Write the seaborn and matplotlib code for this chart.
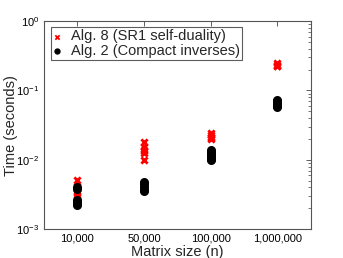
import numpy as np
import pandas as pd
import matplotlib
matplotlib.use("Agg")
import matplotlib.pyplot as plt
import seaborn as sns
from matplotlib.ticker import LogLocator, NullFormatter

sizes = ["10,000", "50,000", "100,000", "1,000,000"]

# timings (seconds)
sr1_times = {
    "10,000": [0.0051, 0.0042, 0.0036, 0.0033, 0.0030, 0.0027, 0.0025, 0.0023],
    "50,000": [0.0178, 0.0155, 0.0140, 0.0132, 0.0125, 0.0098],
    "100,000": [0.0240, 0.0225, 0.0215, 0.0205, 0.0198],
    "1,000,000": [0.245, 0.235, 0.228, 0.222],
}
compact_times = {
    "10,000": [0.0041, 0.0038, 0.0026, 0.0025, 0.0024, 0.0023, 0.0022],
    "50,000": [0.0048, 0.0045, 0.0040, 0.0037, 0.0036],
    "100,000": [0.0140, 0.0130, 0.0122, 0.0115, 0.0108, 0.0103, 0.0100],
    "1,000,000": [0.072, 0.068, 0.064, 0.061, 0.058],
}


def to_frame(times, label):
    rows = [(s, t, label) for s in sizes for t in times[s]]
    return pd.DataFrame(rows, columns=["size", "time", "alg"])


sr1 = to_frame(sr1_times, "Alg. 8 (SR1 self-duality)")
compact = to_frame(compact_times, "Alg. 2 (Compact inverses)")

sns.set_style("white")
plt.rcParams["font.family"] = ["Liberation Sans", "DejaVu Sans"]

fig = plt.figure(figsize=(3.43, 2.58), dpi=100)
ax = fig.add_axes([0.128, 0.112, 0.778, 0.806])

sns.stripplot(data=sr1, x="size", y="time", order=sizes, jitter=False,
              marker="x", color="red", s=4.5, linewidth=2, ax=ax,
              label="Alg. 8 (SR1 self-duality)", legend=False)
sns.stripplot(data=compact, x="size", y="time", order=sizes, jitter=False,
              marker="o", color="black", s=6.5, linewidth=0, ax=ax,
              label="Alg. 2 (Compact inverses)", legend=False)

ax.set_yscale("log")
ax.set_ylim(1e-3, 1e0)
ax.set_xlim(-0.5, 3.5)
ax.yaxis.set_major_locator(LogLocator(base=10, numticks=10))
ax.yaxis.set_minor_locator(LogLocator(base=10, subs=np.arange(2, 10), numticks=10))
ax.yaxis.set_minor_formatter(NullFormatter())

ax.tick_params(axis="both", which="both", direction="in", top=True, right=True,
               labelsize=8, colors="#444444", labelcolor="black")
ax.tick_params(axis="both", which="major", length=3.5, width=0.6)
ax.tick_params(axis="y", which="minor", length=2, width=0.5)
for sp in ax.spines.values():
    sp.set_color("#555555")
    sp.set_linewidth(0.8)

ax.set_xlabel("Matrix size (n)", fontsize=10.5, labelpad=1)
ax.set_ylabel("Time (seconds)", fontsize=10.5)
ax.yaxis.set_label_coords(-0.097, 0.5)

handles, labels = ax.get_legend_handles_labels()
seen = {}
for h, l in zip(handles, labels):
    seen.setdefault(l, h)
leg = ax.legend(list(seen.values()), list(seen.keys()), loc="upper left",
                bbox_to_anchor=(0.015, 0.985), fontsize=10.5, frameon=True,
                fancybox=False, edgecolor="#333333", handlelength=0.6,
                handletextpad=0.6, borderpad=0.15, labelspacing=0.05,
                borderaxespad=0.2, markerscale=0.7)
leg.get_frame().set_linewidth(0.8)
leg.legend_handles[0].set_linewidth(1.3)

fig.savefig("out.png", dpi=100)
